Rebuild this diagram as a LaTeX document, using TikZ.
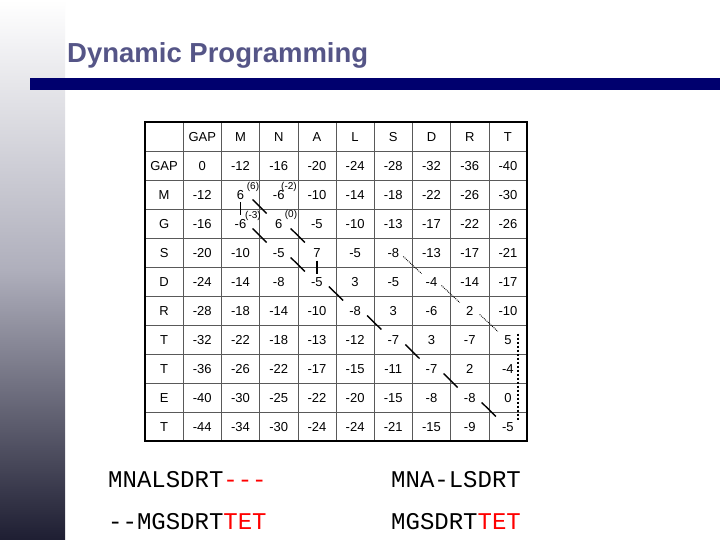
\documentclass[tikz,border=0pt]{standalone}
\usepackage{fontspec}
\setmainfont{Liberation Sans}
\newfontfamily\monof{Liberation Mono}
\definecolor{navy}{RGB}{0,0,110}
\definecolor{ttl}{RGB}{85,85,135}
\definecolor{gbot}{RGB}{30,30,50}
\definecolor{gmid}{RGB}{175,175,188}
\begin{document}
\begin{tikzpicture}[x=1pt,y=-1pt,
  cell/.style={font=\fontsize{13}{13}\selectfont,inner sep=0,text height=9.5pt,text depth=0pt},
  sol/.style={line width=1.4pt,black},
  dot/.style={densely dotted,line width=0.9pt},
  sup/.style={font=\fontsize{10}{10}\selectfont,inner sep=0}]
\useasboundingbox (0,0) rectangle (720,540);
\fill[white] (0,0) rectangle (720,540);
\shade[top color=white,bottom color=gbot,middle color=gmid] (0,0) rectangle (65,540);
\node[anchor=west,inner sep=0,font=\bfseries\fontsize{27.5}{27.5}\selectfont,text=ttl] (title) at (67,55) {Dynamic Programming};
\fill[navy] (30,78) rectangle (720,90);
\def\cw{38.2}\def\rh{29}
\foreach \i in {1,...,10} \draw[gray!70!black,line width=0.6pt] (145,122+\i*\rh) -- (527,122+\i*\rh);
\foreach \j in {1,...,9} \draw[gray!70!black,line width=0.6pt] (145+\j*\cw,122) -- (145+\j*\cw,441);
\draw[line width=1.5pt] (145,122) rectangle (527,441);
\foreach \t [count=\j] in {GAP,M,N,A,L,S,D,R,T}
  \node[cell] (h\j) at (145+\j*\cw+0.5*\cw,122+0.5*\rh) {\t};
\foreach \t [count=\i] in {GAP,M,G,S,D,R,T,T,E,T}
  \node[cell] (r\i) at (145+0.5*\cw,122+\i*\rh+0.5*\rh) {\t};
\foreach \row [count=\i] in {
 {0,-12,-16,-20,-24,-28,-32,-36,-40},
 {-12,6,-6,-10,-14,-18,-22,-26,-30},
 {-16,-6,6,-5,-10,-13,-17,-22,-26},
 {-20,-10,-5,7,-5,-8,-13,-17,-21},
 {-24,-14,-8,-5,3,-5,-4,-14,-17},
 {-28,-18,-14,-10,-8,3,-6,2,-10},
 {-32,-22,-18,-13,-12,-7,3,-7,5},
 {-36,-26,-22,-17,-15,-11,-7,2,-4},
 {-40,-30,-25,-22,-20,-15,-8,-8,0},
 {-44,-34,-30,-24,-24,-21,-15,-9,-5}}
 {\foreach \v [count=\j] in \row
   \node[cell] (c\i-\j) at (145+\j*\cw+0.5*\cw,122+\i*\rh+0.5*\rh) {\v};}
\node[sup] (s1) at (253,187) {(6)};
\node[sup] (s2) at (289,187) {(-2)};
\node[sup] (s3) at (253,216) {(-3)};
\node[sup] (s4) at (291,215) {(0)};
\foreach \a/\b/\c/\d in {2/2/3/3,3/3/4/4,3/2/4/3,4/3/5/4,5/4/6/5,6/5/7/6,7/6/8/7,8/7/9/8,9/8/10/9}
  \draw[sol] ([shift={(12,5)}]c\a-\b.center) -- ([shift={(-12,-10)}]c\c-\d.center);
\draw[sol] ([shift={(0,8)}]c2-2.center) -- ([shift={(0,-8)}]c3-2.center);
\draw[sol] ([shift={(0,8)}]c4-4.center) -- ([shift={(0,-8)}]c5-4.center);
\foreach \a/\b/\c/\d in {4/6/5/7,5/7/6/8,6/8/7/9}
  \draw[dot] ([shift={(10,4)}]c\a-\b.center) -- ([shift={(-10,-8)}]c\c-\d.center);
\draw[line width=1.6pt,dash pattern=on 2pt off 2pt] ([shift={(10,-6)}]c7-9.center) -- ([shift={(10,-6)}]c10-9.center);
\node[anchor=base west,inner sep=0,font=\monof\fontsize{24}{24}\selectfont] (a1) at (108,487) {MNALSDRT\textcolor{red}{-{}-{}-}};
\node[anchor=base west,inner sep=0,font=\monof\fontsize{24}{24}\selectfont] (a2) at (108,529) {-{}-MGSDRT\textcolor{red}{TET}};
\node[anchor=base west,inner sep=0,font=\monof\fontsize{24}{24}\selectfont] (a3) at (391,487) {MNA-LSDRT};
\node[anchor=base west,inner sep=0,font=\monof\fontsize{24}{24}\selectfont] (a4) at (391,529) {MGSDRT\textcolor{red}{TET}};
\end{tikzpicture}
\end{document}
